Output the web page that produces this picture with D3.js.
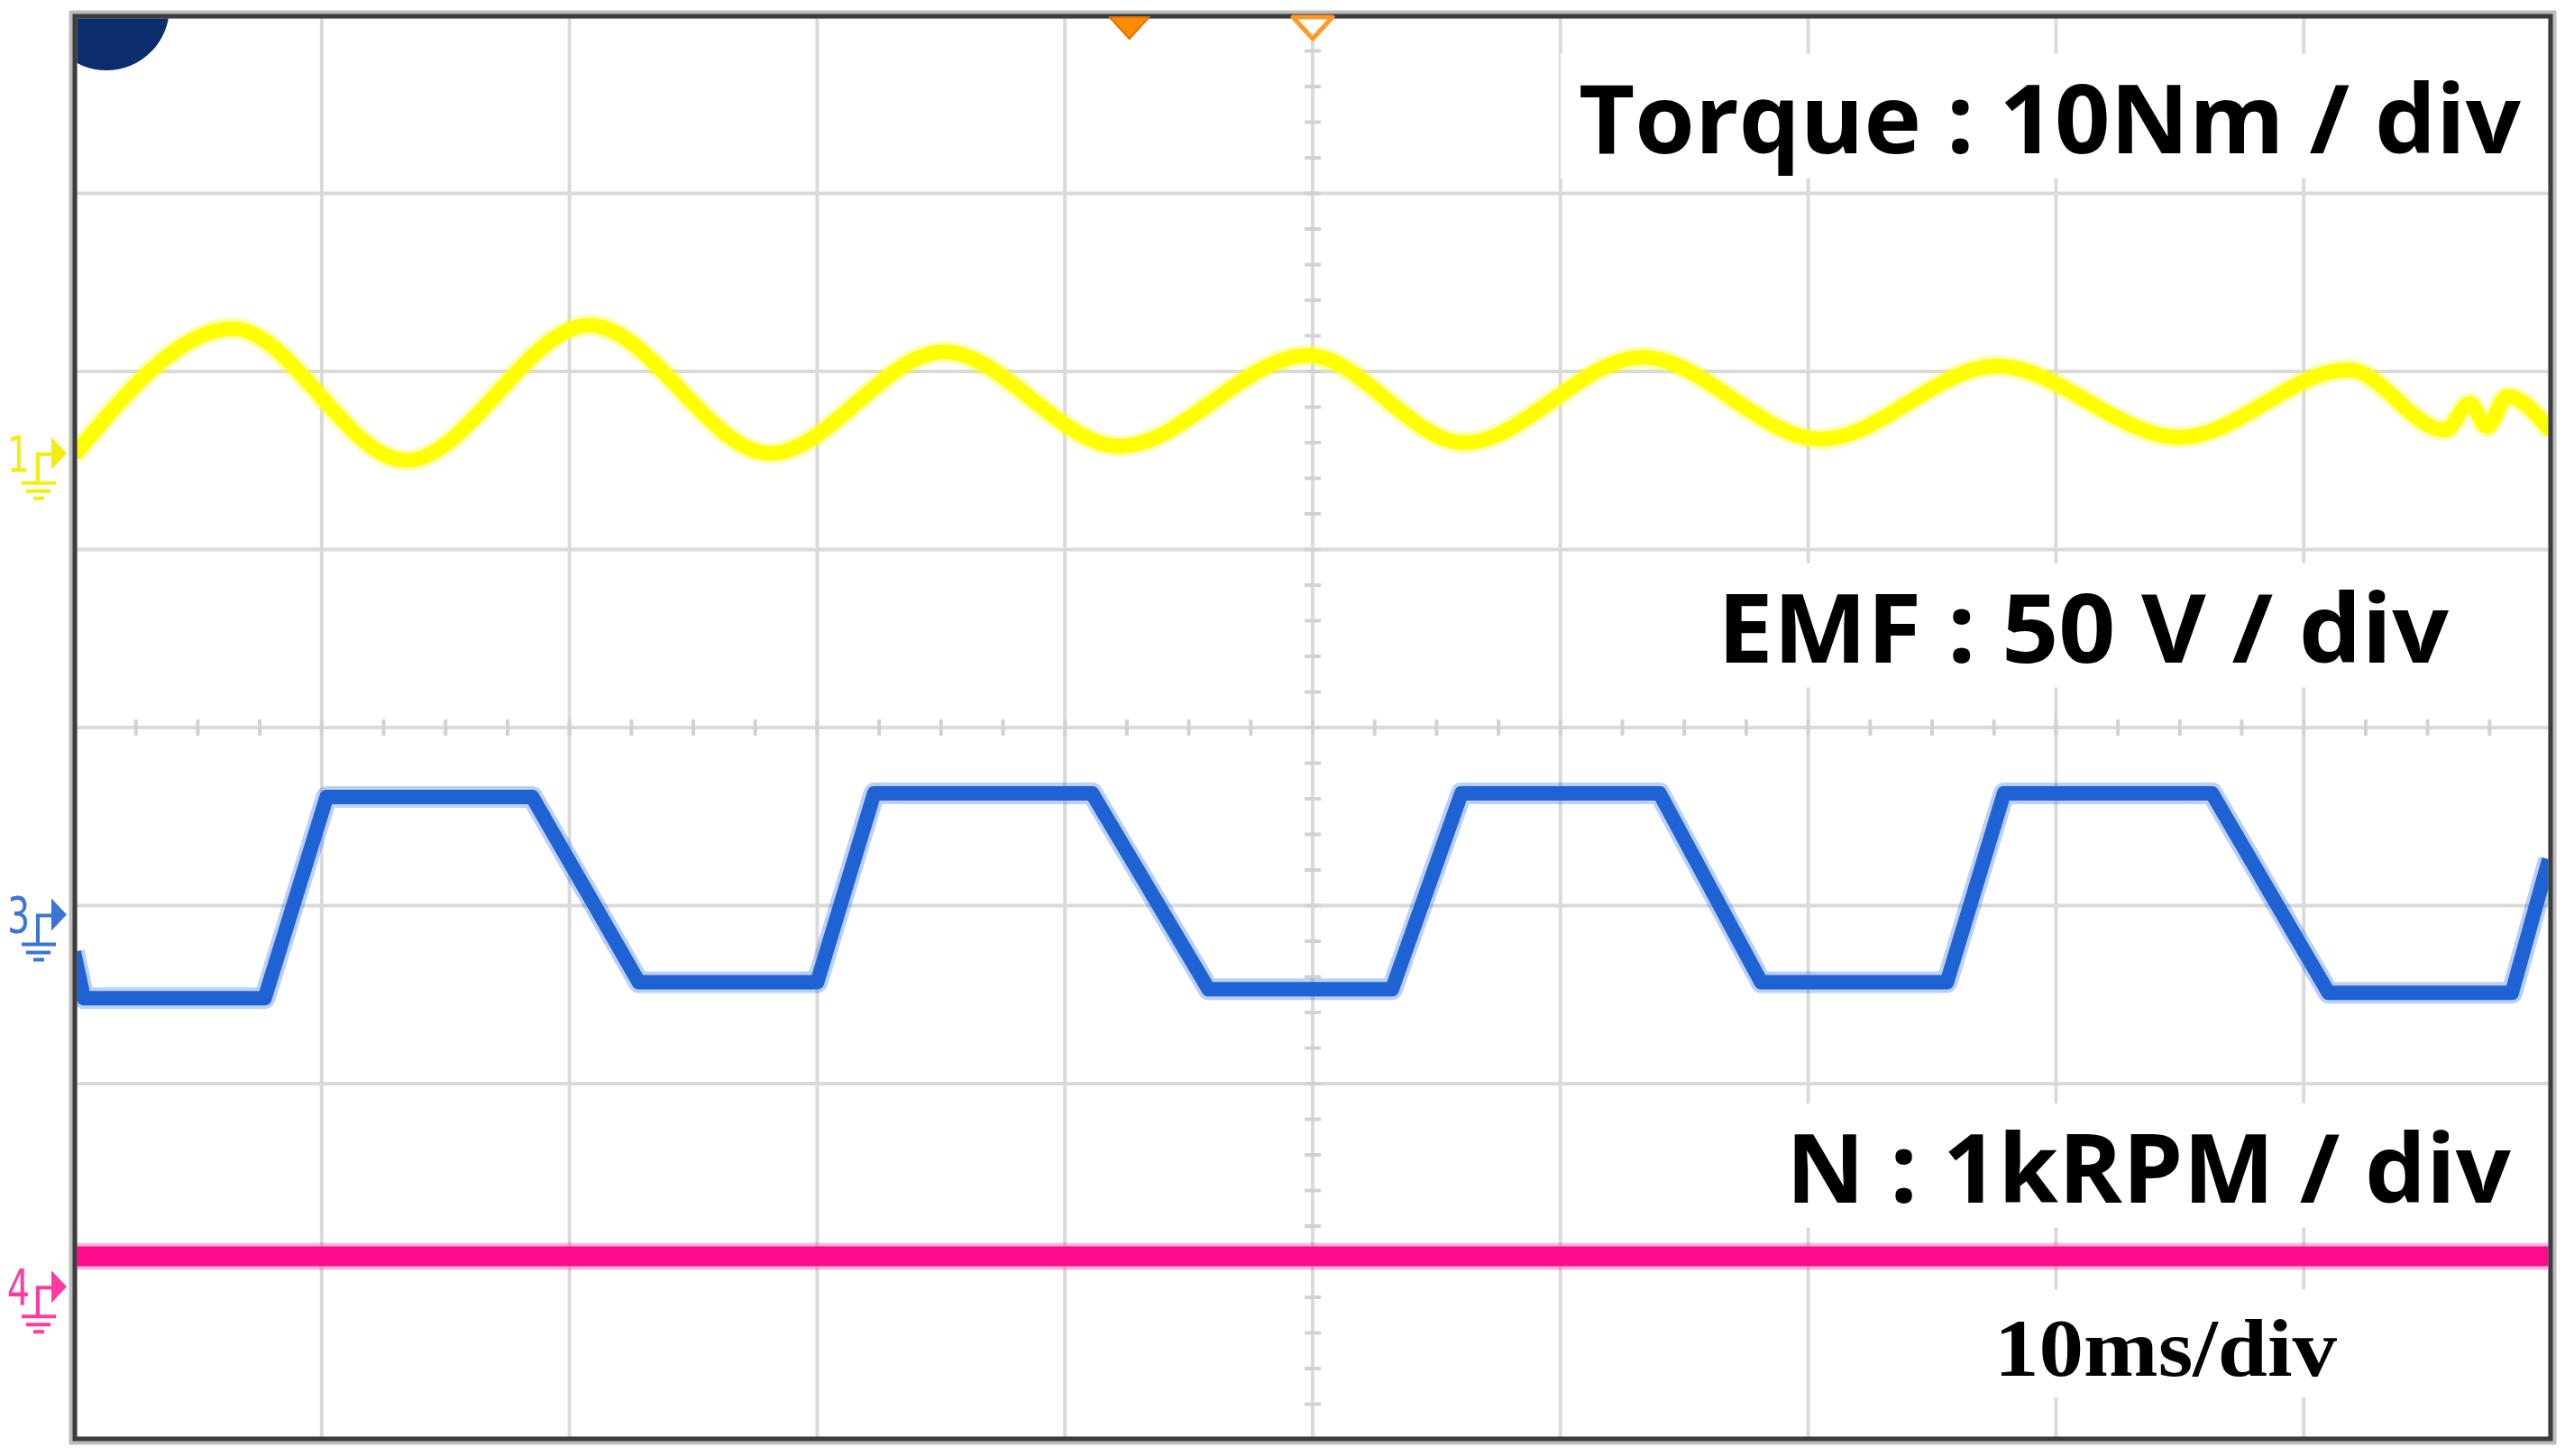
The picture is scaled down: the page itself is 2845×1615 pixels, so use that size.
<!DOCTYPE html>
<html>
<head>
<meta charset="utf-8">
<title>Torque, EMF and speed waveforms</title>
<script src="https://cdn.jsdelivr.net/npm/d3@7"></script>
<style>
  html, body { margin: 0; padding: 0; background: #fff; }
  svg { display: block; }
</style>
</head>
<body>
<div id="scope"></div>
<script>
(function(d3, undefined) {
  'use strict';

  // time in ms, level in screen divisions (0 = centre line)
  var
    torqueTime  = [0, 6.4, 13.4, 20.8, 28.1, 35.1, 42.2, 49.8, 56.1, 63.3, 70.5, 77.6, 85.0, 91.8, 95.7, 96.7, 97.4, 98.2, 100],
    torqueLevel = [1.53, 2.24, 1.50, 2.26, 1.54, 2.11, 1.58, 2.09, 1.60, 2.08, 1.62, 2.03, 1.63, 2.01, 1.67, 1.82, 1.69, 1.86, 1.66],

    emfTime  = [0, 0.4, 7.7, 10.2, 18.5, 22.8, 30.0, 32.3, 41.1, 45.8, 53.2, 56.0, 64.0, 68.1, 75.6, 77.9, 86.3, 91.0, 98.4, 99.9],
    emfLevel = [-1.26, -1.52, -1.52, -0.39, -0.39, -1.43, -1.43, -0.37, -0.37, -1.47, -1.47, -0.37, -0.37, -1.43, -1.43, -0.37, -0.37, -1.49, -1.49, -0.74],

    speedTime  = [0, 25, 50, 75, 100],
    speedLevel = [-2.97, -2.97, -2.97, -2.97, -2.97],

    channelNames  = ['1', '3', '4'],
    channelLevels = [1.54, -1.05, -3.14],

    triggerTimes  = [42.6, 50],
    triggerFilled = [true, false],

    labelTexts = ['Torque : 10Nm / div', 'EMF : 50 V / div', 'N : 1kRPM / div', '10ms/div'],

    xTicks = d3.range(0, 101, 10),
    yTicks = d3.range(-4, 5, 1);

  var
    WIDTH  = 2845,
    HEIGHT = 1615,
    FRAME  = {left: 82, top: 17, right: 2830, bottom: 1597},

    GRID_COLOR  = '#dadada',
    TRACE_COLORS = {torque: '#ffff00', emf: '#1f62d4', speed: '#ff0a8c'},
    MARKER_COLORS = ['#f2ee10', '#3c74d6', '#ff3aa0'],

    // x of first glyph, baseline, width of the text run, font
    LABEL_LAYOUT = [
      {x: 1751, y: 170,  len: 1045, size: 106, family: '"Open Sans", sans-serif', weight: 700},
      {x: 1905, y: 735,  len: 811,  size: 106, family: '"Open Sans", sans-serif', weight: 700},
      {x: 1981, y: 1334, len: 804,  size: 106, family: '"Open Sans", sans-serif', weight: 700},
      {x: 2212, y: 1526, len: 380,  size: 92,  family: '"Liberation Serif", "Times New Roman", serif', weight: 700}
    ],

    x = d3.scaleLinear().domain([0, 100]).range([FRAME.left, FRAME.right]),
    y = d3.scaleLinear().domain([-4, 4]).range([FRAME.bottom, FRAME.top]);

  function zipSeries(times, levels) {
    return times.map(function(t, i) {
      return {t: t, v: levels[i]};
    });
  }

  function drawGrid(svg) {
    var grid = svg.append('g').attr('class', 'grid');

    grid.selectAll('line.vx')
      .data(xTicks)
      .enter()
      .append('line')
      .attr('class', 'vx')
      .attr('x1', function(d) { return x(d); })
      .attr('x2', function(d) { return x(d); })
      .attr('y1', y(4))
      .attr('y2', y(-4))
      .attr('stroke', GRID_COLOR)
      .attr('stroke-width', 4);

    grid.selectAll('line.hy')
      .data(yTicks)
      .enter()
      .append('line')
      .attr('class', 'hy')
      .attr('x1', x(0))
      .attr('x2', x(100))
      .attr('y1', function(d) { return y(d); })
      .attr('y2', function(d) { return y(d); })
      .attr('stroke', GRID_COLOR)
      .attr('stroke-width', 4);

    // minor ticks on the two centre lines
    grid.selectAll('line.minor-y')
      .data(d3.range(-4, 4.01, 0.2))
      .enter()
      .append('line')
      .attr('class', 'minor-y')
      .attr('x1', x(50) - 9)
      .attr('x2', x(50) + 9)
      .attr('y1', function(d) { return y(d); })
      .attr('y2', function(d) { return y(d); })
      .attr('stroke', '#d2d2d2')
      .attr('stroke-width', 4);

    grid.selectAll('line.minor-x')
      .data(d3.range(0, 100.01, 2.5))
      .enter()
      .append('line')
      .attr('class', 'minor-x')
      .attr('x1', function(d) { return x(d); })
      .attr('x2', function(d) { return x(d); })
      .attr('y1', y(0) - 9)
      .attr('y2', y(0) + 9)
      .attr('stroke', '#d2d2d2')
      .attr('stroke-width', 4);
  }

  function drawLabelBoxes(svg) {
    svg.append('g')
      .selectAll('rect')
      .data(LABEL_LAYOUT)
      .enter()
      .append('rect')
      .attr('x', function(d) { return d.x - 20; })
      .attr('y', function(d) { return d.y - d.size * 1.04; })
      .attr('width', function(d) { return d.len + 40; })
      .attr('height', function(d) { return d.size * 1.3; })
      .attr('fill', '#fff');
  }

  function tracePath(g, series, curve, color, width) {
    var line = d3.line()
      .x(function(d) { return x(d.t); })
      .y(function(d) { return y(d.v); })
      .curve(curve);

    // soft halo first, like the phosphor blur of the scope capture
    g.append('path')
      .datum(series)
      .attr('d', line)
      .attr('fill', 'none')
      .attr('stroke', color)
      .attr('stroke-opacity', 0.3)
      .attr('stroke-width', width + 8)
      .attr('stroke-linejoin', 'round');

    g.append('path')
      .datum(series)
      .attr('d', line)
      .attr('fill', 'none')
      .attr('stroke', color)
      .attr('stroke-width', width)
      .attr('stroke-linejoin', 'round');
  }

  function drawTraces(svg) {
    var traces = svg.append('g').attr('clip-path', 'url(#screen)');

    tracePath(traces, zipSeries(speedTime, speedLevel), d3.curveLinear, TRACE_COLORS.speed, 22);
    tracePath(traces, zipSeries(emfTime, emfLevel), d3.curveLinear, TRACE_COLORS.emf, 16);
    tracePath(traces, zipSeries(torqueTime, torqueLevel), d3.curveMonotoneX, TRACE_COLORS.torque, 16);
  }

  function drawChannelMarkers(svg) {
    var markers = svg.append('g')
      .selectAll('g')
      .data(channelNames)
      .enter()
      .append('g')
      .attr('transform', function(d, i) {
        return 'translate(0,' + y(channelLevels[i]) + ')';
      })
      .attr('fill', function(d, i) { return MARKER_COLORS[i]; })
      .attr('stroke', function(d, i) { return MARKER_COLORS[i]; });

    markers.append('text')
      .attr('x', 8)
      .attr('y', 20)
      .attr('stroke', 'none')
      .attr('font-family', '"DejaVu Sans", sans-serif')
      .attr('font-size', 56)
      .attr('textLength', 25)
      .attr('lengthAdjust', 'spacingAndGlyphs')
      .text(function(d) { return d; });

    markers.append('path')
      .attr('fill', 'none')
      .attr('stroke-width', 4)
      .attr('d', 'M42,32V1H58');

    markers.append('path')
      .attr('fill', 'none')
      .attr('stroke-width', 4)
      .attr('d', 'M24,33H62M29,42H56M37,50H49');

    markers.append('path')
      .attr('stroke', 'none')
      .attr('d', 'M57,-18L74,0L57,18Z');
  }

  function drawTriggers(svg) {
    svg.append('g')
      .selectAll('path')
      .data(triggerTimes)
      .enter()
      .append('path')
      .attr('transform', function(d) { return 'translate(' + x(d) + ',' + (FRAME.top + 2) + ')'; })
      .attr('d', 'M-22,0L22,0L0,24Z')
      .attr('fill', function(d, i) { return triggerFilled[i] ? '#ff8c00' : '#fff'; })
      .attr('stroke', function(d, i) { return triggerFilled[i] ? '#e07000' : '#ff9a26'; })
      .attr('stroke-width', function(d, i) { return triggerFilled[i] ? 2 : 5; })
      .attr('stroke-linejoin', 'round');
  }

  function drawLabels(svg) {
    svg.append('g')
      .selectAll('text')
      .data(labelTexts)
      .enter()
      .append('text')
      .attr('x', function(d, i) { return LABEL_LAYOUT[i].x; })
      .attr('y', function(d, i) { return LABEL_LAYOUT[i].y; })
      .attr('font-family', function(d, i) { return LABEL_LAYOUT[i].family; })
      .attr('font-size', function(d, i) { return LABEL_LAYOUT[i].size; })
      .attr('font-weight', function(d, i) { return LABEL_LAYOUT[i].weight; })
      .attr('textLength', function(d, i) { return LABEL_LAYOUT[i].len; })
      .attr('lengthAdjust', 'spacingAndGlyphs')
      .attr('fill', '#000')
      .text(function(d) { return d; });
  }

  function drawFrame(svg) {
    var w = FRAME.right - FRAME.left,
        h = FRAME.bottom - FRAME.top;

    svg.append('rect')
      .attr('x', FRAME.left - 1).attr('y', FRAME.top - 1)
      .attr('width', w + 2).attr('height', h + 2)
      .attr('fill', 'none')
      .attr('stroke', '#bdbdbd')
      .attr('stroke-width', 9);

    svg.append('rect')
      .attr('x', FRAME.left + 1).attr('y', FRAME.top + 1)
      .attr('width', w - 2).attr('height', h - 2)
      .attr('fill', 'none')
      .attr('stroke', '#3c3c3c')
      .attr('stroke-width', 5);
  }

  function render() {
    var svg, defs;

    svg = d3.select('#scope')
      .append('svg')
      .attr('width', WIDTH)
      .attr('height', HEIGHT);

    svg.append('rect')
      .attr('width', WIDTH).attr('height', HEIGHT)
      .attr('fill', '#fff');

    defs = svg.append('defs');
    defs.append('clipPath')
      .attr('id', 'screen')
      .append('rect')
      .attr('x', FRAME.left).attr('y', FRAME.top)
      .attr('width', FRAME.right - FRAME.left)
      .attr('height', FRAME.bottom - FRAME.top);

    drawGrid(svg);
    drawLabelBoxes(svg);
    drawTraces(svg);

    // navy corner badge, cut by the screen edge
    svg.append('circle')
      .attr('clip-path', 'url(#screen)')
      .attr('cx', FRAME.left + 36).attr('cy', FRAME.top - 9)
      .attr('r', 70)
      .attr('fill', '#0b2d6b');

    drawChannelMarkers(svg);
    drawLabels(svg);
    drawFrame(svg);
    drawTriggers(svg);
  }

  render();
})(d3);
</script>
</body>
</html>
